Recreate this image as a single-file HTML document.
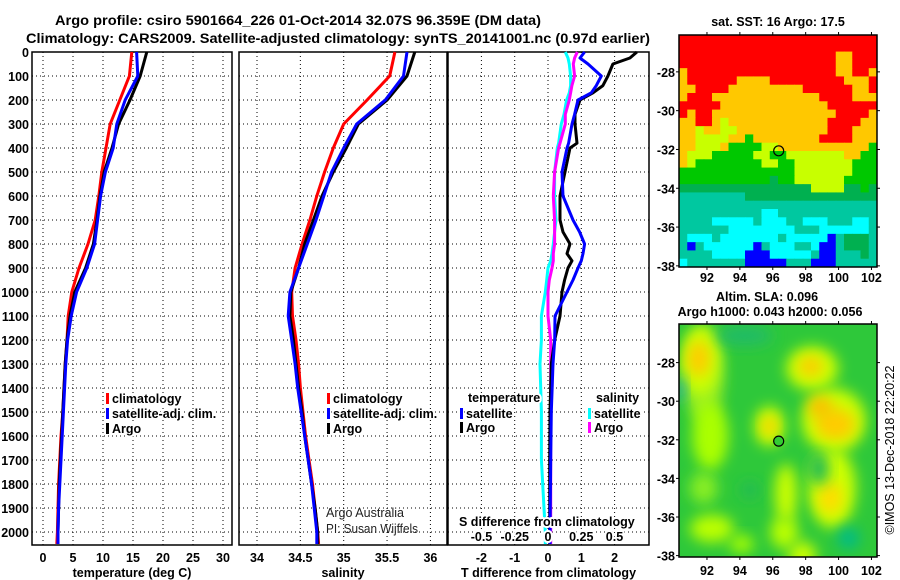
<!DOCTYPE html>
<html><head><meta charset="utf-8">
<style>
html,body{margin:0;padding:0;background:#fff;}
svg{display:block;font-family:"Liberation Sans",sans-serif;}
.b{font-weight:bold;font-size:12.5px;}
.t{font-weight:bold;font-size:13.5px;}
.lg{font-weight:bold;font-size:12.5px;paint-order:stroke;stroke:#fff;stroke-width:4px;stroke-linejoin:round;}
</style></head>
<body>
<svg id="fig" width="900" height="580" viewBox="0 0 900 580" xmlns="http://www.w3.org/2000/svg">
<text class="t" x="55" y="25" textLength="486" lengthAdjust="spacingAndGlyphs">Argo profile: csiro 5901664_226 01-Oct-2014 32.07S 96.359E (DM data)</text>
<text class="t" x="26" y="43" textLength="624" lengthAdjust="spacingAndGlyphs">Climatology: CARS2009. Satellite-adjusted climatology: synTS_20141001.nc (0.97d earlier)</text>
<g id="plots"></g>
<g id="maps"></g>
</svg>
<script>
// ---- data ----
const depths = [0,100,200,300,400,500,600,700,800,900,1000,1100,1200,1300,1400,1500,1600,1700,1800,1900,2000,2050];
const tempArgo = [17.3,16.2,14.5,12.6,11.5,10.2,9.5,9.0,8.4,7.1,5.3,4.5,4.0,3.7,3.5,3.3,3.1,2.9,2.7,2.6,2.5,2.5];
const tempSat  = [15.6,15.8,13.7,12.3,11.7,10.4,9.6,9.1,8.6,7.3,5.6,4.7,4.1,3.8,3.6,3.4,3.2,3.0,2.8,2.6,2.5,2.5];
const tempClim = [14.8,14.4,12.8,11.2,10.5,9.8,9.3,8.7,7.5,6.0,4.8,4.2,4.0,3.7,3.5,3.3,3.0,2.8,2.6,2.5,2.4,2.3];
const salArgo = [35.82,35.73,35.50,35.17,35.03,34.88,34.75,34.65,34.55,34.48,34.39,34.38,34.42,34.45,34.48,34.52,34.55,34.59,34.63,34.67,34.70,34.70];
const salSat  = [35.73,35.69,35.48,35.15,35.00,34.86,34.77,34.68,34.58,34.48,34.38,34.36,34.40,34.44,34.47,34.51,34.55,34.59,34.63,34.66,34.69,34.69];
const salClim = [35.59,35.53,35.27,35.00,34.88,34.78,34.69,34.61,34.52,34.44,34.40,34.41,34.45,34.48,34.50,34.53,34.56,34.60,34.64,34.67,34.70,34.71];
const diffDepths = [0,25,50,100,140,170,200,260,300,380,400,500,600,700,750,800,840,870,900,950,1000,1100,1200,1300,1500,1700,2000,2050];
const dTArgo = [2.67,2.46,1.95,1.8,1.65,1.35,0.96,0.81,0.81,0.87,0.66,0.51,0.36,0.36,0.45,0.66,0.57,0.72,0.6,0.5,0.42,0.36,0.2,0.1,0.06,0.05,0.05,0.05];
const dTSat  = [1.1,0.96,1.2,1.6,1.45,1.3,0.9,0.8,0.72,0.62,0.57,0.42,0.45,0.75,0.95,1.1,1.05,1.0,0.9,0.75,0.57,0.21,0.2,0.15,0.1,0.08,0.06,0.06];
const dSArgo = [0.22,0.20,0.19,0.20,0.18,0.17,0.16,0.13,0.13,0.09,0.08,0.05,0.04,0.05,0.05,0.05,0.04,0.04,0.03,0.01,0.0,0.0,0.02,0.02,0.02,0.02,0.02,0.02];
const dSSat  = [0.13,0.15,0.16,0.17,0.17,0.16,0.14,0.12,0.10,0.08,0.07,0.05,0.05,0.06,0.05,0.04,0.03,0.02,0.0,-0.01,-0.02,-0.05,-0.05,-0.06,-0.05,-0.05,-0.02,-0.02];
const depthTicks = [0,100,200,300,400,500,600,700,800,900,1000,1100,1200,1300,1400,1500,1600,1700,1800,1900,2000];
const tempTicks = [0,5,10,15,20,25,30];
const salTicks = [34,34.5,35,35.5,36];
const salTickLabels = ["34","34.5","35","35.5","36"];
const dTTicks = [-2,-1,0,1,2];
const dSTicks = [-0.5,-0.25,0,0.25,0.5];
const dSTickLabels = ["-0.5","-0.25","0","0.25","0.5"];
const lonTicks = [92,94,96,98,100,102];
const latTicks = [-28,-30,-32,-34,-36,-38];

const NS="http://www.w3.org/2000/svg";
function mk(tag,attrs,parent,text){const e=document.createElementNS(NS,tag);for(const k in attrs)e.setAttribute(k,attrs[k]);if(text!==undefined)e.textContent=text;parent.appendChild(e);return e;}
const plots=document.getElementById('plots');
const yTop=52, pxPer100=24, yBot=545;
const yScale=d=>yTop+d*pxPer100/100;

function panel(name,x0,x1,xs,ticks,labels,xlabel){
  const g=mk('g',{},plots);
  
  
  depthTicks.forEach(d=>{if(d===0)return;const l=mk('line',{x1:x0,x2:x1,y1:yScale(d),y2:yScale(d),stroke:'#000','stroke-width':1,'stroke-dasharray':'1,3'},g);
    
    });
  ticks.forEach((t,i)=>{const X=xs(t);const l=mk('line',{x1:X,x2:X,y1:yTop,y2:yBot,stroke:'#000','stroke-width':1,'stroke-dasharray':'1,3'},g);
    
    
    if(labels){const tx=mk('text',{x:X,y:562,'text-anchor':'middle',class:'b'},g,labels[i]);
    
    }});
  const r=mk('rect',{x:x0,y:yTop,width:x1-x0,height:yBot-yTop,fill:'none',stroke:'#000','stroke-width':1.5},g);
  
  
  if(xlabel){const t=mk('text',{x:(x0+x1)/2,y:577,'text-anchor':'middle',class:'b'},g,xlabel);
    
    }
  return g;
}
function series(g,name,xs,vals,ds,color){
  const pts=vals.map((v,i)=>xs(v).toFixed(1)+','+yScale(ds[i]).toFixed(1)).join(' ');
  const p=mk('polyline',{points:pts,fill:'none',stroke:color,'stroke-width':3,'stroke-linejoin':'round'},g);
  
  
}
function legend(g,x,y,color,label,name){
  const r=mk('rect',{x:x,y:y-9,width:3,height:11,fill:color},g);
  
  
  const t=mk('text',{x:x+6,y:y+1,class:'lg'},g,label);
  
  
}
depthTicks.forEach(d=>{const t=mk('text',{x:29,y:yScale(d)+5,'text-anchor':'end',class:'b'},plots,String(d));
  
  });

const xT=v=>43+v*6;
const g1=panel('temperature-panel',32,232,xT,tempTicks,tempTicks.map(String),'temperature (deg C)');
series(g1,'temp-climatology-line',xT,tempClim,depths,'#ff0000');
series(g1,'temp-argo-line',xT,tempArgo,depths,'#000000');
series(g1,'temp-satellite-line',xT,tempSat,depths,'#0000ff');
legend(g1,106,402,'#ff0000','climatology','legend-climatology');
legend(g1,106,417,'#0000ff','satellite-adj. clim.','legend-satellite');
legend(g1,106,432,'#000000','Argo','legend-argo');

const xS=v=>257+(v-34)*86.7;
const g2=panel('salinity-panel',239,447,xS,salTicks,salTickLabels,'salinity');
series(g2,'sal-climatology-line',xS,salClim,depths,'#ff0000');
series(g2,'sal-argo-line',xS,salArgo,depths,'#000000');
series(g2,'sal-satellite-line',xS,salSat,depths,'#0000ff');
legend(g2,327,402,'#ff0000','climatology','legend-climatology');
legend(g2,327,417,'#0000ff','satellite-adj. clim.','legend-satellite');
legend(g2,327,432,'#000000','Argo','legend-argo');
[['Argo Australia',517],['PI: Susan Wijffels',533]].forEach(([s,y])=>{const t=mk('text',{x:326,y:y,'font-size':'12.5',fill:'#222',textLength:s.length>15?92:78,lengthAdjust:'spacingAndGlyphs'},g2,s);
  
  });

const xDT=v=>548+v*33.3;
const xDS=v=>548+v*133;
const g3=panel('difference-panel',448,649,xDT,dTTicks,dTTicks.map(String),'T difference from climatology');
series(g3,'s-diff-satellite-line',xDS,dSSat,diffDepths,'#00ffff');
series(g3,'s-diff-argo-line',xDS,dSArgo,diffDepths,'#ff00ff');
series(g3,'t-diff-argo-line',xDT,dTArgo,diffDepths,'#000000');
series(g3,'t-diff-satellite-line',xDT,dTSat,diffDepths,'#0000ff');
(function(){const t=mk('text',{x:468,y:402,class:'lg'},g3,'temperature');
const s=mk('text',{x:596,y:402,class:'lg'},g3,'salinity');})();
legend(g3,460,417,'#0000ff','satellite','legend-t-satellite');
legend(g3,460,431,'#000000','Argo','legend-t-argo');
legend(g3,588,417,'#00ffff','satellite','legend-s-satellite');
legend(g3,588,431,'#ff00ff','Argo','legend-s-argo');
(function(){const t=mk('text',{x:459,y:526,class:'lg'},g3,'S difference from climatology');
dSTicks.forEach((v,i)=>{const l=mk('text',{x:xDS(v),y:541,'text-anchor':'middle',class:'lg'},g3,dSTickLabels[i]);});})();

// ---- maps ----
const maps=document.getElementById('maps');
const mx0=679,mx1=877,lon0=90.3,lonPx=16.45;
const lonX=l=>mx0+(l-lon0)*lonPx;
const sstRows=[
"RRRRRRRRRRRRRRRRRRRRRRRR",
"RRRRRRRRRRRRRRRRRRRRRRRR",
"RRRRRRRRRRRRRRRRRRROORRR",
"RRRRRRRRRRRRRRRRRRROORRR",
"ORRRRRRRRRRRRRRRRRROORRO",
"ORRRRRROOOORRRRRRRRROOOR",
"OORRRROOOOOOOOORRRRRROOR",
"ORRROOOOOOOOOOOOORRRROOO",
"RRRRROOOOOOOOOOOOORRRRRR",
"RORROOOOOOOOOOOOOOORRRRO",
"OORROYOOOOOOOOOOOORRRROO",
"OOYOOYYOOOOOOOOOOORRROOO",
"OOYYYYOOGOOOOOOOORRRROOO",
"OOYYYOGGGGYYOOOOOOOOOOOG",
"OYYYGGGGGYYGGYYYYYYYOOGG",
"OYGGGGGGGGYYGGYYYYYYYGGG",
"GGGGGGGGGGGGGGYYYYYYYGGG",
"GGGGGGGGGGGDGGYYYYYYGGGG",
"DDDDDDDDDDDDDDDDYYYYDDGD",
"TTTTTTTTDDDDDDDDDDDDDDDD",
"TTTTTTTTTTTTTTTTTTTTTTTT",
"TTTTTTTTTTCCTTTTTTTTTTTT",
"TTTTCCCCCTCCCTTCCCTTTCCT",
"TTTTTTCCCCCCCCTTTCCCCCCT",
"TCCCTCCCCCCCTCCCCCBTDDDT",
"TBTCCCCCCBTCCCTTCBBTDDDT",
"TTTTCCCCBBBCCCCCTBBTTTDT",
"CTTTTTTTBBBBBTTTBBBTTTTT"
];
const sstColors={R:'#ff0000',O:'#ffc800',Y:'#c8ff00',G:'#00c800',D:'#00b050',T:'#00c8a0',C:'#00ffff',B:'#0000ff'};
function mapFrame(y0,y1,latTop,latPx,name){
  const g=mk('g',{},maps);
  
  
  return {g,latY:l=>y0+(latTop-l)*latPx,y0,y1};
}
const m1=mapFrame(35,267,-26.1,19.4,'sst-map');
(function(){
  const rows=sstRows.length,cols=sstRows[0].length;
  const cw=(mx1-mx0)/cols,ch=(267-35)/rows;
  sstRows.forEach((row,r)=>{for(let c=0;c<cols;c++){const rc=mk('rect',{x:(mx0+c*cw).toFixed(2),y:(35+r*ch).toFixed(2),width:(cw+0.5).toFixed(2),height:(ch+0.5).toFixed(2),fill:sstColors[row[c]]},m1.g);
    
    }});
})();
const m2=mapFrame(324,557,-26.0,19.3,'sla-map');
(function(){
  const g=m2.g;
  const defs=mk('defs',{},g);
  const f=mk('filter',{id:'blur',x:'-50%',y:'-50%',width:'200%',height:'200%'},defs);
  mk('feGaussianBlur',{stdDeviation:'7'},f);
  const cp=mk('clipPath',{id:'clip2'},defs);
  mk('rect',{x:mx0,y:324,width:mx1-mx0,height:233},cp);
  const bg=mk('rect',{x:mx0,y:324,width:mx1-mx0,height:233,fill:'#2ec83a'},g);
  
  
  const inner=mk('g',{'clip-path':'url(#clip2)'},g);
  const blobs=[
    [91.8,-28.6,20,48,'#99ee22'],[91.6,-27.9,18,34,'#ccff00'],[91.5,-27.8,11,18,'#ffcc00'],
    [92.2,-31.8,18,34,'#aaff00'],[91.8,-34.5,14,16,'#88ee22'],
    [98.4,-28.3,26,22,'#ccff00'],[98.3,-28.2,12,10,'#ffcc00'],
    [99.7,-31,32,32,'#ccff00'],[99.8,-31.2,20,16,'#ffcc00'],[98.9,-30.3,12,10,'#ffbb00'],
    [99.6,-34.5,24,40,'#ccff00'],[99.5,-35,12,16,'#ffdd00'],
    [95.8,-31.3,15,20,'#ccff00'],[95.8,-31.3,7,9,'#ffcc00'],
    [96.8,-34.8,11,30,'#ccff00'],[96.7,-36.8,14,16,'#bbff00'],[97.8,-38,14,14,'#ccff00'],
    [92.3,-36.6,22,14,'#bbff00'],[94.1,-37.4,12,9,'#aaff00'],
    [100.6,-37.1,11,11,'#00bb88'],[94.3,-26.6,28,10,'#22bb66'],[94.6,-34.6,9,9,'#22bb55'],[98.8,-33.5,10,16,'#22bb55'],[90.4,-29.4,5,12,'#22aaaa']
  ];
  blobs.forEach(b=>{const e=mk('ellipse',{cx:lonX(b[0]),cy:m2.latY(b[1]),rx:b[2],ry:b[3],fill:b[4],filter:'url(#blur)'},inner);
    
    });
})();
[[m1,35,267,-26.1,19.4,282],[m2,324,557,-26.0,19.3,575]].forEach(([m,y0,y1,lt,lp,ly],k)=>{
  const g=m.g;
  const fr=mk('rect',{x:mx0,y:y0,width:mx1-mx0,height:y1-y0,fill:'none',stroke:'#000','stroke-width':1.5},g);
  
  
  lonTicks.forEach(l=>{const X=lonX(l);
    mk('line',{x1:X,x2:X,y1:y0,y2:y0-3,stroke:'#000'},g);
    mk('line',{x1:X,x2:X,y1:y1,y2:y1+3,stroke:'#000'},g);
    const t=mk('text',{x:X,y:ly,'text-anchor':'middle',class:'b'},g,String(l));
    
    });
  latTicks.forEach(l=>{const Y=y0+(lt-l)*lp;
    mk('line',{x1:mx0,x2:mx0-3,y1:Y,y2:Y,stroke:'#000'},g);
    mk('line',{x1:mx1,x2:mx1+3,y1:Y,y2:Y,stroke:'#000'},g);
    const t=mk('text',{x:675,y:Y+5,'text-anchor':'end',class:'b'},g,String(l));
    
    });
  const c=mk('circle',{cx:lonX(96.36),cy:y0+(lt+32.07)*lp,r:5,fill:k?'#33cc33':'none',stroke:'#000','stroke-width':1.2},g);
  
  
});
[['sat. SST: 16 Argo: 17.5',778,26,'sst-map-title'],['Altim. SLA: 0.096',767,301,'sla-map-title'],['Argo h1000: 0.043 h2000: 0.056',770,316,'argo-height-title']].forEach(([s,x,y,n])=>{
  const t=mk('text',{x:x,y:y,'text-anchor':'middle',class:'b'},maps,s);
  
  });
(function(){const t=mk('text',{x:0,y:0,'text-anchor':'middle','font-size':'12.5',transform:'translate(894,450) rotate(-90)'},maps,'©IMOS 13-Dec-2018 22:20:22');
  
  })();
</script>
</body></html>
